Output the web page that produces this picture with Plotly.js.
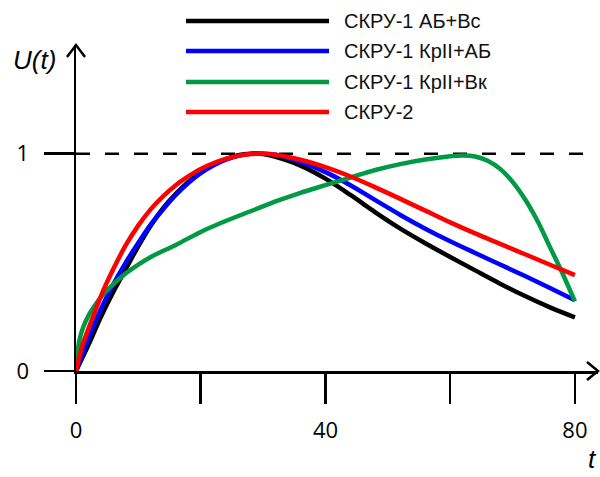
<!DOCTYPE html>
<html>
<head>
<meta charset="utf-8">
<script src="https://cdn.plot.ly/plotly-3.0.1.min.js"></script>
<style>html,body{margin:0;padding:0;background:#fff;}#chart{width:600px;height:477px;}</style>
</head>
<body>
<div id="chart"></div>
<script>
// ---- data ----
var seriesNames = ['СКРУ-1 АБ+Вс', 'СКРУ-1 КрII+АБ', 'СКРУ-1 КрII+Вк', 'СКРУ-2'];
var seriesColors = ['#000000', '#0000ff', '#009944', '#ff0000'];

var tBlack = [0, 2, 4, 6, 8, 10, 12, 14, 16, 18, 20, 22, 24, 26, 28, 30, 32, 36, 40, 44, 48, 52, 56, 60, 64, 68, 72, 76, 80];
var uBlack = [0, 0.12, 0.25, 0.365, 0.47, 0.575, 0.67, 0.75, 0.815, 0.87, 0.915, 0.95, 0.975, 0.993, 1.0, 0.998, 0.985, 0.945, 0.885, 0.81, 0.73, 0.655, 0.588, 0.525, 0.463, 0.402, 0.345, 0.293, 0.247];

var tBlue = [0, 2, 4, 6, 8, 10, 12, 14, 16, 18, 20, 22, 24, 26, 28, 30, 32, 36, 40, 44, 48, 52, 56, 60, 64, 68, 72, 76, 80];
var uBlue = [0, 0.15, 0.285, 0.40, 0.50, 0.59, 0.675, 0.745, 0.81, 0.865, 0.91, 0.945, 0.972, 0.99, 0.999, 1.0, 0.995, 0.962, 0.915, 0.855, 0.786, 0.718, 0.655, 0.597, 0.543, 0.49, 0.437, 0.382, 0.326];

var tGreen = [0, 0.3, 0.7, 1.2, 2, 3, 4, 6, 8, 10, 12, 16, 20, 24, 28, 32, 36, 40, 44, 48, 52, 56, 60, 62, 64, 66, 68, 70, 72, 74, 76, 78, 80];
var uGreen = [0, 0.10, 0.16, 0.205, 0.255, 0.30, 0.34, 0.40, 0.45, 0.49, 0.525, 0.58, 0.64, 0.69, 0.735, 0.78, 0.82, 0.855, 0.89, 0.925, 0.952, 0.973, 0.988, 0.992, 0.987, 0.967, 0.93, 0.87, 0.79, 0.69, 0.57, 0.45, 0.32];

var tRed = [0, 1, 2, 3, 4, 6, 8, 10, 12, 14, 16, 18, 20, 22, 24, 26, 28, 30, 32, 36, 40, 44, 48, 52, 56, 60, 64, 68, 72, 76, 80];
var uRed = [0, 0.115, 0.195, 0.27, 0.345, 0.47, 0.58, 0.67, 0.745, 0.805, 0.855, 0.895, 0.93, 0.956, 0.976, 0.99, 0.998, 1.0, 0.995, 0.972, 0.938, 0.895, 0.845, 0.792, 0.738, 0.684, 0.633, 0.585, 0.537, 0.489, 0.441];

var xTickVals = [0, 20, 40, 60, 80];
var xTickText = ['0', '', '40', '', '80'];
var yTickVals = [0, 1];
var yTickText = ['0', '1'];
var refLevel = 1;
var refEnd = 82;

// ---- layout helpers ----
var ML = 76, MR = 2, MT = 45, MB = 106, W = 600, H = 477;
var PW = W - ML - MR, PH = H - MT - MB;
function pxX(p) { return (p - ML) / PW; }
function pxY(p) { return (H - MB - p) / PH; }

var xs = [tBlack, tBlue, tGreen, tRed];
var ys = [uBlack, uBlue, uGreen, uRed];
var traces = xs.map(function (x, i) {
  return {
    x: x, y: ys[i], type: 'scatter', mode: 'lines', name: seriesNames[i],
    line: {color: seriesColors[i], width: 4.5, shape: 'spline', smoothing: 1},
    showlegend: false, hoverinfo: 'skip'
  };
});

var legendRows = [21, 51, 82, 112];
var shapes = [
  {type: 'line', xref: 'x', yref: 'y', x0: 0, x1: refEnd, y0: refLevel, y1: refLevel,
   line: {color: '#000', width: 2.5, dash: '14px,15px'}, layer: 'below'},
  {type: 'path', xref: 'paper', yref: 'paper', xsizemode: 'pixel', ysizemode: 'pixel',
   xanchor: 1, yanchor: 0, path: 'M -11,9 L 0,0 L -11,-9', line: {color: '#000', width: 2.5}},
  {type: 'path', xref: 'paper', yref: 'paper', xsizemode: 'pixel', ysizemode: 'pixel',
   xanchor: 0, yanchor: 1, path: 'M -9,-12 L 0,0 L 9,-12', line: {color: '#000', width: 2.5}}
];
var annotations = [];
seriesNames.forEach(function (n, i) {
  shapes.push({type: 'line', xref: 'paper', yref: 'paper', x0: pxX(186), x1: pxX(329),
    y0: pxY(legendRows[i]), y1: pxY(legendRows[i]), line: {color: seriesColors[i], width: 4.5}});
  annotations.push({xref: 'paper', yref: 'paper', x: pxX(342), y: pxY(legendRows[i]),
    xanchor: 'left', yanchor: 'middle', text: n, showarrow: false,
    font: {family: 'Liberation Sans, Arial, sans-serif', size: 20, color: '#111'}});
});
annotations.push({xref: 'paper', yref: 'paper', x: pxX(34), y: pxY(60), xanchor: 'center', yanchor: 'middle',
  text: '<i>U(t)</i>', showarrow: false, font: {family: 'Liberation Sans, Arial, sans-serif', size: 26, color: '#000'}});
annotations.push({xref: 'paper', yref: 'paper', x: pxX(592), y: pxY(476), xanchor: 'center', yanchor: 'bottom',
  text: '<i>t</i>', showarrow: false, font: {family: 'Liberation Sans, Arial, sans-serif', size: 26, color: '#000'}});

var layout = {
  width: W, height: H,
  margin: {l: ML, r: MR, t: MT, b: MB, pad: 0},
  paper_bgcolor: '#fff', plot_bgcolor: '#fff',
  showlegend: false,
  xaxis: {range: [0, 83.7], showgrid: false, zeroline: false, showline: true, linecolor: '#000', linewidth: 2.5,
    ticks: 'outside', ticklen: 30, tickwidth: 2.5, tickcolor: '#000',
    tickvals: xTickVals, ticktext: xTickText, ticklabelstandoff: 8,
    tickfont: {family: 'Open Sans, sans-serif', size: 22, color: '#000'}},
  yaxis: {range: [0, 1.5], showgrid: false, zeroline: false, showline: true, linecolor: '#000', linewidth: 2.5,
    ticks: 'outside', ticklen: 30, tickwidth: 2.5, tickcolor: '#000',
    tickvals: yTickVals, ticktext: yTickText, ticklabelstandoff: 10,
    tickfont: {family: 'Open Sans, sans-serif', size: 22, color: '#000'}},
  shapes: shapes,
  annotations: annotations
};
Plotly.newPlot('chart', traces, layout, {staticPlot: true, displayModeBar: false});
</script>
</body>
</html>
